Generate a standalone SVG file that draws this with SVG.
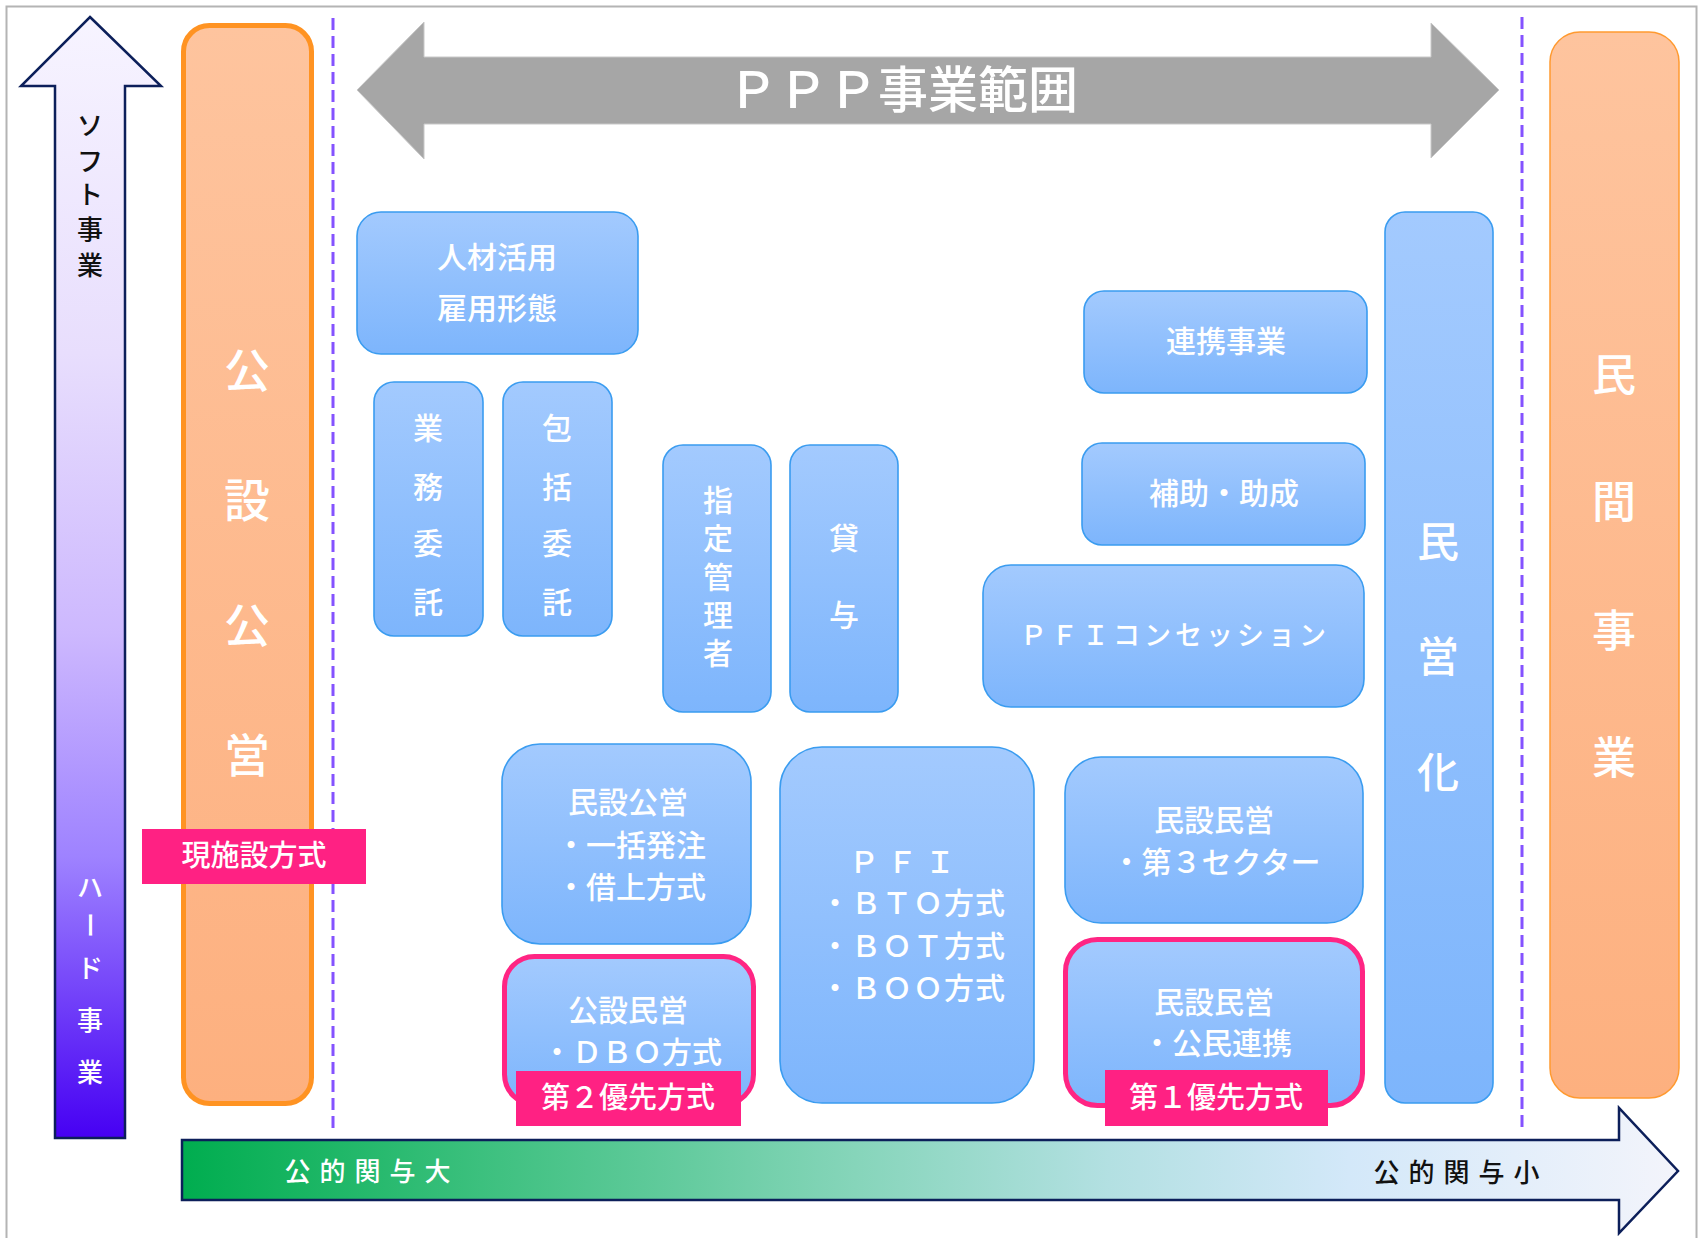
<svg xmlns="http://www.w3.org/2000/svg" width="1705" height="1238" viewBox="0 0 1705 1238">
<defs>
<style>
text{font-family:"Noto Sans CJK JP","Noto Sans CJK SC",sans-serif;text-anchor:middle;font-weight:500}
.w{fill:#ffffff}
.k{fill:#111111}
.blue{stroke:#3a9cf0;stroke-width:1.6;fill:url(#gBlue)}
.pinkbox{stroke:#ff2583;stroke-width:5;fill:url(#gBlue)}
.orange{fill:url(#gOrange)}
.lbl{fill:#ff2183}
.t30{font-size:30px}
.dash{stroke:#8452ff;stroke-width:3;stroke-dasharray:12 6;fill:none}
</style>
<linearGradient id="gBlue" x1="0" y1="0" x2="0" y2="1">
<stop offset="0" stop-color="#a3cafe"/><stop offset="1" stop-color="#7db5fc"/>
</linearGradient>
<linearGradient id="gOrange" x1="0" y1="0" x2="0" y2="1">
<stop offset="0" stop-color="#fec49e"/><stop offset="1" stop-color="#fdb07f"/>
</linearGradient>
<linearGradient id="gUp" x1="0" y1="0" x2="0" y2="1">
<stop offset="0" stop-color="#f7f4ff"/><stop offset="0.3" stop-color="#e8defd"/><stop offset="0.55" stop-color="#cdb8fe"/><stop offset="0.75" stop-color="#9e82ff"/><stop offset="1" stop-color="#4600f3"/>
</linearGradient>
<linearGradient id="gGreen" x1="0" y1="0" x2="1" y2="0">
<stop offset="0" stop-color="#00ad4f"/><stop offset="0.2" stop-color="#3cc07e"/><stop offset="0.45" stop-color="#86d5ba"/><stop offset="0.62" stop-color="#b3e0e2"/><stop offset="0.78" stop-color="#d3e8f9"/><stop offset="1" stop-color="#f3f4fb"/>
</linearGradient>
</defs>
<rect x="0" y="0" width="1705" height="1238" fill="#ffffff"/>
<rect x="6.5" y="6.5" width="1690" height="1250" fill="none" stroke="#b4b4b4" stroke-width="2"/>

<g id="connectors">
<path id="arrow-soft" d="M90,17 L161,86 L125,86 L125,1138 L55,1138 L55,86 L21,86 Z" fill="url(#gUp)" stroke="#0c1f5a" stroke-width="2.5"/>
<path id="arrow-ppp" d="M357,90 L424,22 L424,57 L1431,57 L1431,23 L1499,90 L1431,158 L1431,124 L424,124 L424,159 Z" fill="#a6a6a6" stroke="#c8c8c8" stroke-width="1"/>
<path id="arrow-public" d="M182,1140 L1619,1140 L1619,1108 L1678,1171 L1619,1233 L1619,1200 L182,1200 Z" fill="url(#gGreen)" stroke="#0c1f5a" stroke-width="2.5"/>
<line class="dash" x1="333" y1="18" x2="333" y2="1128"/>
<line class="dash" x1="1522" y1="17" x2="1522" y2="1128"/>
</g>

<g id="soft-hard-labels">
<text class="k" font-size="26"><tspan x="90" y="135">ソ</tspan><tspan x="90" y="171">フ</tspan><tspan x="90" y="204">ト</tspan><tspan x="90" y="239">事</tspan><tspan x="90" y="275">業</tspan></text>
<text class="w" font-size="26"><tspan x="90" y="897">ハ</tspan></text>
<text class="w" font-size="26" transform="translate(90,925) rotate(90)" x="0" y="10">ー</text>
<text class="w" font-size="26"><tspan x="90" y="978">ド</tspan><tspan x="90" y="1030">事</tspan><tspan x="90" y="1082">業</tspan></text>
</g>

<g id="ppp-label">
<text class="w" x="903" y="108" font-size="50" font-weight="400">ＰＰＰ事業範囲</text>
</g>

<g id="node-kousetsukouei">
<rect x="183.5" y="25.5" width="128" height="1078" rx="26" class="orange" stroke="#ff9322" stroke-width="5"/>
<text class="w" font-size="46"><tspan x="247" y="387">公</tspan><tspan x="247" y="517">設</tspan><tspan x="247" y="642">公</tspan><tspan x="247" y="772">営</tspan></text>
</g>

<g id="node-genshisetsu">
<rect x="142" y="829" width="224" height="55" class="lbl"/>
<text class="w" x="254" y="866" font-size="29">現施設方式</text>
</g>

<g id="node-minkanjigyou">
<rect x="1550" y="32" width="129" height="1066" rx="30" class="orange" stroke="#ff9a30" stroke-width="1.5"/>
<text class="w" font-size="44" font-weight="bold"><tspan x="1614" y="391">民</tspan><tspan x="1614" y="518">間</tspan><tspan x="1614" y="647">事</tspan><tspan x="1614" y="774">業</tspan></text>
</g>

<g id="node-mineika">
<rect x="1385" y="212" width="108" height="891" rx="20" class="blue"/>
<text class="w" font-size="42" font-weight="bold"><tspan x="1438" y="557">民</tspan><tspan x="1438" y="672">営</tspan><tspan x="1438" y="788">化</tspan></text>
</g>

<g id="node-jinzai">
<rect x="357" y="212" width="281" height="142" rx="24" class="blue"/>
<text class="w t30"><tspan x="497" y="268">人材活用</tspan><tspan x="497" y="319">雇用形態</tspan></text>
</g>

<g id="node-gyoumuitaku">
<rect x="374" y="382" width="109" height="254" rx="20" class="blue"/>
<text class="w t30"><tspan x="428" y="439">業</tspan><tspan x="428" y="498">務</tspan><tspan x="428" y="554">委</tspan><tspan x="428" y="613">託</tspan></text>
</g>

<g id="node-houkatsuitaku">
<rect x="503" y="382" width="109" height="254" rx="20" class="blue"/>
<text class="w t30"><tspan x="557" y="439">包</tspan><tspan x="557" y="498">括</tspan><tspan x="557" y="554">委</tspan><tspan x="557" y="613">託</tspan></text>
</g>

<g id="node-shiteikanri">
<rect x="663" y="445" width="108" height="267" rx="20" class="blue"/>
<text class="w t30"><tspan x="718" y="511">指</tspan><tspan x="718" y="549">定</tspan><tspan x="718" y="588">管</tspan><tspan x="718" y="626">理</tspan><tspan x="718" y="664">者</tspan></text>
</g>

<g id="node-taiyo">
<rect x="790" y="445" width="108" height="267" rx="20" class="blue"/>
<text class="w t30"><tspan x="844" y="549">貸</tspan><tspan x="844" y="626">与</tspan></text>
</g>

<g id="node-renkei">
<rect x="1084" y="291" width="283" height="102" rx="20" class="blue"/>
<text class="w t30" x="1226" y="352">連携事業</text>
</g>

<g id="node-hojo">
<rect x="1082" y="443" width="283" height="102" rx="20" class="blue"/>
<text class="w t30" x="1224" y="504">補助・助成</text>
</g>

<g id="node-concession">
<rect x="983" y="565" width="381" height="142" rx="28" class="blue"/>
<text class="w" x="1175" y="645" font-size="27" letter-spacing="4">ＰＦＩコンセッション</text>
</g>

<g id="node-minsetsukouei">
<rect x="502" y="744" width="249" height="200" rx="38" class="blue"/>
<text class="w t30"><tspan x="628" y="813">民設公営</tspan><tspan x="631" y="856">・一括発注</tspan><tspan x="631" y="898">・借上方式</tspan></text>
</g>

<g id="node-pfi">
<rect x="780" y="747" width="254" height="356" rx="42" class="blue"/>
<text class="w t30"><tspan x="906" y="873" letter-spacing="8">ＰＦＩ</tspan><tspan x="913" y="914" letter-spacing="1">・ＢＴＯ方式</tspan><tspan x="913" y="957" letter-spacing="1">・ＢＯＴ方式</tspan><tspan x="913" y="999" letter-spacing="1">・ＢＯＯ方式</tspan></text>
</g>

<g id="node-kousetsumineiDBO">
<rect x="504.5" y="956.5" width="249" height="148" rx="30" class="pinkbox"/>
<text class="w t30"><tspan x="628" y="1021">公設民営</tspan><tspan x="632" y="1063">・ＤＢＯ方式</tspan></text>
</g>

<g id="node-priority2">
<rect x="516" y="1071" width="225" height="55" class="lbl"/>
<text class="w" x="628" y="1108" font-size="29">第２優先方式</text>
</g>

<g id="node-daisan">
<rect x="1065" y="757" width="298" height="166" rx="36" class="blue"/>
<text class="w t30"><tspan x="1214" y="831">民設民営</tspan><tspan x="1216" y="873">・第３セクター</tspan></text>
</g>

<g id="node-koumin">
<rect x="1065.5" y="939.5" width="297" height="166" rx="32" class="pinkbox"/>
<text class="w t30"><tspan x="1214" y="1013">民設民営</tspan><tspan x="1217" y="1054">・公民連携</tspan></text>
</g>

<g id="node-priority1">
<rect x="1105" y="1070" width="223" height="56" class="lbl"/>
<text class="w" x="1216" y="1108" font-size="29">第１優先方式</text>
</g>

<g id="axis-labels">
<text class="w" x="372" y="1181" font-size="26" letter-spacing="9">公的関与大</text>
<text class="k" x="1461" y="1182" font-size="26" letter-spacing="9">公的関与小</text>
</g>
</svg>
